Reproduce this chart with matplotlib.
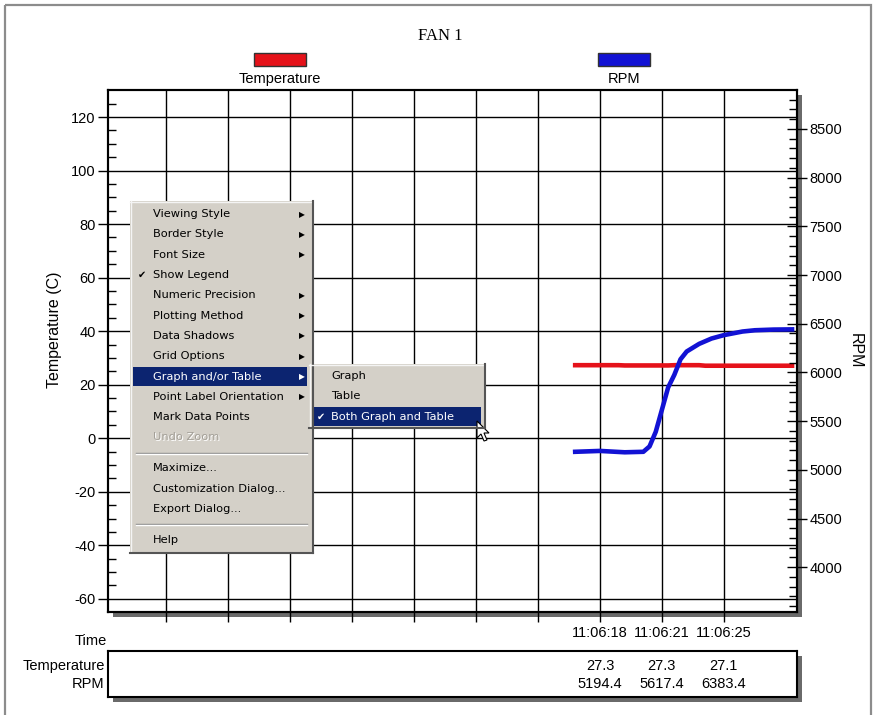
import numpy as np
import matplotlib.pyplot as plt
from matplotlib.patches import Rectangle, Polygon

plt.rcParams['font.family'] = 'Liberation Sans'
plt.rcParams['axes.unicode_minus'] = False

# --- data (x = sample index) ---
temp_x = [76, 83, 84, 91, 92, 96, 97, 111]
temp_y = [27.3, 27.3, 27.2, 27.2, 27.3, 27.3, 27.1, 27.1]

rpm_x = [76, 80, 84, 87, 88, 89, 90, 91, 92, 93, 94, 96, 98, 100, 103, 105, 108, 111]
rpm_y = [5185, 5194, 5180, 5185, 5240, 5390, 5617, 5845, 5975, 6135, 6215, 6293,
         6348, 6383, 6420, 6433, 6440, 6442]

grid_x = [10, 20, 30, 40, 50, 60, 70, 80, 90, 100]
time_ticks = [80, 90, 100]
time_labels = ['11:06:18', '11:06:21', '11:06:25']
table_temp = [27.3, 27.3, 27.1]
table_rpm = [5194.4, 5617.4, 6383.4]

series_names = ['Temperature', 'RPM']
RED = '#e5121a'
BLUE = '#1212d4'

menu_items = [('Viewing Style', 'arrow'), ('Border Style', 'arrow'), ('Font Size', 'arrow'),
              ('Show Legend', 'check'), ('Numeric Precision', 'arrow'),
              ('Plotting Method', 'arrow'), ('Data Shadows', 'arrow'),
              ('Grid Options', 'arrow'), ('Graph and/or Table', 'hilite'),
              ('Point Label Orientation', 'arrow'), ('Mark Data Points', ''),
              ('Undo Zoom', 'disabled'), None,
              ('Maximize...', ''), ('Customization Dialog...', ''), ('Export Dialog...', ''),
              None, ('Help', '')]
sub_items = [('Graph', ''), ('Table', ''), ('Both Graph and Table', 'hilite')]

# --- layout in pixels ---
W, H = 873, 715
PLOT = (108, 90, 797, 612)
TABLE = (108, 651, 797, 697)


def frac(x0, y0, x1, y1):
    return [x0 / W, 1 - y1 / H, (x1 - x0) / W, (y1 - y0) / H]


fig = plt.figure(figsize=(W / 100, H / 100), dpi=100)

# background layer: frame, shadows, legend
bg = fig.add_axes([0, 0, 1, 1], zorder=-1)
bg.set_xlim(0, W)
bg.set_ylim(H, 0)
bg.axis('off')
bg.add_patch(Rectangle((5, 5), 866, 740, fill=False, ec='#8c8c8c', lw=1.6))
for x0, y0, x1, y1 in [PLOT, TABLE]:
    bg.add_patch(Rectangle((x0 + 5, y0 + 5), x1 - x0, y1 - y0, fc='#6a6a6a', ec='none'))

for name, col, cx in zip(series_names, [RED, BLUE], [280, 624]):
    bg.add_patch(Rectangle((cx - 26, 53), 52, 13, fc=col, ec='#333333', lw=1))
    bg.text(cx, 79, name, ha='center', va='center', fontsize=10.5)

fig.text(440 / W, 1 - 36 / H, 'FAN 1', family='Liberation Serif', fontsize=12,
         ha='center', va='center')

# main chart
ax = fig.add_axes(frac(*PLOT))
ax.set_xlim(0.6, 111.8)
ax.set_ylim(-64.9, 130.1)
ax.plot(temp_x, temp_y, color=RED, lw=3.3)
ax.set_xticks(grid_x)
ax.set_xticklabels([time_labels[time_ticks.index(v)] if v in time_ticks else '' for v in grid_x])
ax.set_yticks(np.arange(-60, 121, 20))
ax.set_yticks(np.arange(-60, 130, 5), minor=True)
ax.grid(True, which='major', color='black', lw=1)
ax.tick_params(axis='x', direction='out', length=7, width=1, labelsize=10.5, pad=3)
ax.tick_params(axis='y', which='major', direction='out', length=7, width=1,
               labelsize=10.5, pad=2)
ax.tick_params(axis='y', which='minor', direction='in', length=6, width=1)
ax.set_ylabel('Temperature (C)', fontsize=11.5)
ax.yaxis.set_label_coords(-0.067, 0.54)
ax.text(-0.002, (PLOT[3] - 641) / (PLOT[3] - PLOT[1]), 'Time', transform=ax.transAxes,
        ha='right', va='center', fontsize=10.5)
for s in ax.spines.values():
    s.set_linewidth(1.5)

ax2 = ax.twinx()
ax2.set_ylim(3540, 8900)
ax2.plot(rpm_x, rpm_y, color=BLUE, lw=3.3)
ax2.set_yticks(np.arange(4000, 8501, 500))
ax2.set_yticks(np.arange(3600, 8900, 100), minor=True)
ax2.tick_params(axis='y', which='major', direction='inout', length=14, width=1,
                labelsize=10.5, pad=2)
ax2.tick_params(axis='y', which='minor', direction='in', length=6, width=1)
ax2.set_ylabel('RPM', rotation=-90, fontsize=11.5, va='center')
ax2.yaxis.set_label_coords(1.084, 0.5)
for s in ax2.spines.values():
    s.set_linewidth(1.5)

# data table under the chart
tab = fig.add_axes(frac(*TABLE), sharex=ax)
tab.set_ylim(0, 1)
tab.tick_params(bottom=False, labelbottom=False, left=False, labelleft=False)
for s in tab.spines.values():
    s.set_linewidth(1.5)
for name, yy in zip(series_names, [0.67, 0.28]):
    tab.text(-0.005, yy, name, transform=tab.transAxes, ha='right', va='center', fontsize=10.5)
for x, t, r in zip(time_ticks, table_temp, table_rpm):
    tab.text(x, 0.67, f'{t:.1f}', ha='center', va='center', fontsize=10.5)
    tab.text(x, 0.28, f'{r:.1f}', ha='center', va='center', fontsize=10.5)

# context menu overlay
fg = fig.add_axes([0, 0, 1, 1], zorder=10)
fg.set_xlim(0, W)
fg.set_ylim(H, 0)
fg.axis('off')
MENU_BG = '#d4d0c8'
NAVY = '#0c2470'
mf = dict(family='DejaVu Sans', fontsize=8.2, va='center')


def panel(x0, y0, w, h):
    fg.add_patch(Rectangle((x0, y0), w, h, fc=MENU_BG, ec='none'))
    fg.plot([x0, x0 + w], [y0 + 0.5, y0 + 0.5], color='#f4f4f4', lw=1)
    fg.plot([x0 + 0.5, x0 + 0.5], [y0, y0 + h], color='#f4f4f4', lw=1)
    fg.plot([x0 + w, x0 + w], [y0, y0 + h], color='#555555', lw=1.5)
    fg.plot([x0, x0 + w], [y0 + h, y0 + h], color='#555555', lw=1.5)


panel(130, 201, 183, 352)
row_h, top = 20.3, 204.0
for item in menu_items:
    if item is None:
        fg.plot([136, 307], [top + 5, top + 5], color='#8a8a8a', lw=1)
        fg.plot([136, 307], [top + 6, top + 6], color='#ffffff', lw=1)
        top += 10.5
        continue
    label, kind = item
    cy = top + row_h / 2
    color = 'black'
    if kind == 'hilite':
        fg.add_patch(Rectangle((133, top + 0.5), 174, row_h - 1, fc=NAVY, ec='none'))
        color = 'white'
    if kind == 'disabled':
        fg.text(154, cy + 1, label, color='white', **mf)
        color = '#a39f97'
    fg.text(153, cy, label, color=color, **mf)
    if kind in ('arrow', 'hilite'):
        fg.text(302, cy, '\u25b6', color=color, ha='center', family='DejaVu Sans',
                fontsize=5.5, va='center')
    if kind == 'check':
        fg.text(142, cy, '\u2714', color='black', ha='center', family='DejaVu Sans',
                fontsize=7, va='center')
    top += row_h

panel(309, 364, 176, 64)
top = 366.0
for label, kind in sub_items:
    cy = top + row_h / 2
    color = 'black'
    if kind == 'hilite':
        fg.add_patch(Rectangle((312, top + 0.5), 169, row_h - 1, fc=NAVY, ec='none'))
        color = 'white'
        fg.text(321, cy, '\u2714', color='white', ha='center', family='DejaVu Sans',
                fontsize=7, va='center')
    fg.text(331, cy, label, color=color, **mf)
    top += row_h

# mouse pointer
tip = np.array([477, 421])
shape = np.array([(0, 0), (0, 17), (4, 13), (7, 20), (10, 19), (7, 12), (12, 12)])
fg.add_patch(Polygon(tip + shape, closed=True, fc='white', ec='black', lw=0.8))

fig.savefig('out.png', dpi=100)
